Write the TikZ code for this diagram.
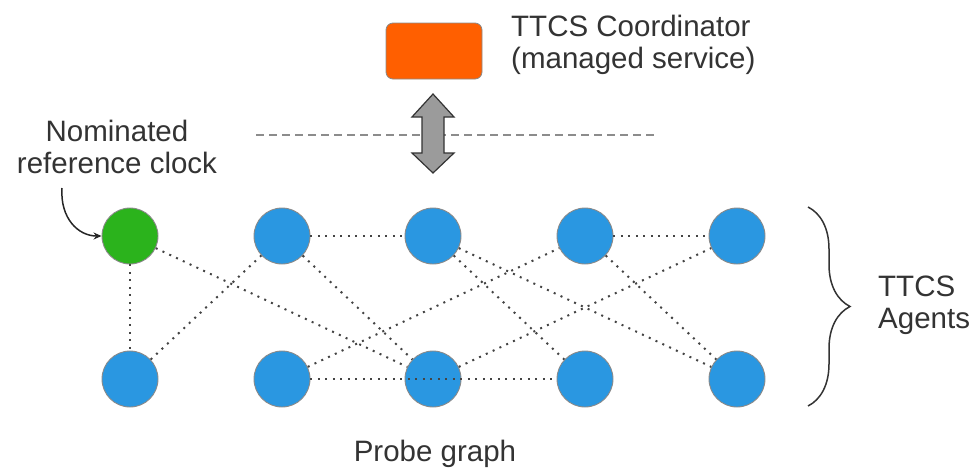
\documentclass[tikz,border=0pt]{standalone}
\usepackage{fontspec}
\setmainfont{Liberation Sans}
\usetikzlibrary{decorations.pathreplacing,arrows.meta}
\definecolor{coordorange}{HTML}{FF5F00}
\definecolor{agentblue}{HTML}{2A97E1}
\definecolor{refgreen}{HTML}{2BB31C}
\definecolor{circgray}{HTML}{8A8A8A}
\definecolor{dotgray}{HTML}{444444}
\definecolor{dashgray}{HTML}{8C8C8C}
\definecolor{arrowfill}{HTML}{9B9B9B}
\definecolor{txtgray}{HTML}{333333}
\begin{document}
\begin{tikzpicture}[x=1pt,y=-1pt,
  agent/.style={circle, minimum size=56pt, inner sep=0pt, draw=circgray, line width=0.9pt, fill=agentblue},
  refclock/.style={agent, fill=refgreen},
  probe/.style={draw=dotgray, line width=2pt, dash pattern=on 2pt off 5.5pt},
  lbl/.style={font=\fontsize{29.5}{32}\selectfont, text=txtgray, inner sep=0pt},
  coordbox/.style={draw=circgray, line width=0.8pt, fill=coordorange, rounded corners=7pt, minimum width=96pt, minimum height=56pt, inner sep=0pt}]
\useasboundingbox (0,0) rectangle (978,472);
% coordinator
\node[coordbox] (coord) at (434,51) {};
\node[lbl, anchor=base west, align=left] (coordlbl) at (511,68) {TTCS Coordinator\\(managed service)};
% dashed boundary and double arrow
\coordinate (dashL) at (256,135);
\coordinate (dashR) at (655,135);
\draw[dashgray, line width=1.5pt, dash pattern=on 8pt off 5pt] (dashL) -- (dashR);
\coordinate (arrtop) at (433,94);
\coordinate (arrbot) at (433,173);
\draw[black!80, line width=1.2pt, fill=arrowfill, line join=miter]
  (arrtop) -- ++(21,23) -- ++(-10,0) -- ++(0,36) -- ++(10,0) -- (arrbot) -- ++(-21,-20) -- ++(10,0) -- ++(0,-36) -- ++(-10,0) -- cycle;
% agents
\node[refclock] (T1) at (130,236) {};
\node[agent] (T2) at (282,236) {};
\node[agent] (T3) at (433,236) {};
\node[agent] (T4) at (585,236) {};
\node[agent] (T5) at (737,236) {};
\node[agent] (B1) at (130,379) {};
\node[agent] (B2) at (282,379) {};
\node[agent] (B3) at (433,379) {};
\node[agent] (B4) at (585,379) {};
\node[agent] (B5) at (737,379) {};
% probe edges
\draw[probe] (T1) -- (B1);
\draw[probe] (T1) -- (B3);
\draw[probe] (B1) -- (T2);
\draw[probe] (T2) -- (T3);
\draw[probe] (T2) -- (B3);
\draw[probe] (B2) -- (T4);
\draw[probe] (T3) -- (B4);
\draw[probe] (T3) -- (B5);
\draw[probe] (B3) -- (T5);
\draw[probe] (T4) -- (T5);
\draw[probe] (T4) -- (B5);
\draw[probe] (B2) -- (B4);
% reference clock label
\node[lbl, anchor=base, align=center] (reflbl) at (117,173) {Nominated\\reference clock};
\coordinate (refstart) at (62,188);
\draw[black!85, line width=1.5pt, -{Stealth[length=8pt,width=7pt]}] (refstart) .. controls (60,218) and (78,236) .. (T1.west);
% brace
\coordinate (brtop) at (808,207);
\coordinate (brbot) at (808,406);
\draw[txtgray, line width=1.5pt, decorate, decoration={brace, amplitude=42pt}] (brtop) -- (brbot);
\node[lbl, anchor=base west, align=left] (agentslbl) at (878,328) {TTCS\\Agents};
% caption
\node[lbl, anchor=base] (caption) at (435,461) {Probe graph};
\end{tikzpicture}
\end{document}
